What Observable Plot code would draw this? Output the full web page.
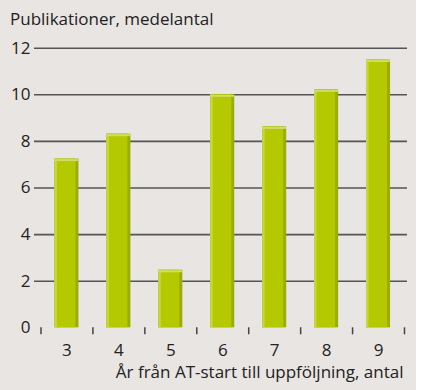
<!DOCTYPE html>
<html><head><meta charset="utf-8">
<script src="https://cdn.jsdelivr.net/npm/d3@7"></script>
<script src="https://cdn.jsdelivr.net/npm/@observablehq/plot@0.6"></script>
<style>
body{margin:0;background:#fff;}
#chart{width:416px;height:390px;background:#e8e5e2;font-family:"Open Sans",sans-serif;color:#222;}
#title{height:36px;box-sizing:border-box;padding:9px 0 0 10px;font-size:17px;line-height:20px;}
#chart svg{display:block;}
</style></head><body>
<div id="chart"><div id="title">Publikationer, medelantal</div></div>
<script>
const years = [3, 4, 5, 6, 7, 8, 9];
const values = [7.24, 8.31, 2.47, 10.0, 8.62, 10.21, 11.49];
const yTicks = [0, 2, 4, 6, 8, 10, 12];
const gridTicks = [2, 4, 6, 8, 10, 12];
const xTitle = "År från AT-start till uppföljning, antal";

const data = years.map((year, i) => ({year, value: values[i]}));
const boundaries = years.map(y => y - 0.5).concat([years[years.length - 1] + 0.5]);
const hw = 0.231;
const barX = {x1: d => d.year - hw, x2: d => d.year + hw, y1: () => 0, y2: "value"};

const chart = Plot.plot({
  width: 416, height: 354,
  marginTop: 11.7, marginBottom: 62.7, marginLeft: 34, marginRight: 9,
  style: {background: "transparent", fontFamily: "Open Sans, sans-serif", fontSize: "17px", color: "#222"},
  x: {type: "linear", domain: [2.5, 9.5], range: [40.5, 404]},
  y: {domain: [0, 12]},
  marks: [
    Plot.ruleY(gridTicks, {stroke: "#555", strokeWidth: 1.6}),
    Plot.rectY(data, {...barX, fill: "#9aad00"}),
    Plot.rectY(data, {...barX, fill: "#b5c900", insetRight: 3}),
    Plot.rectY(data, {...barX, fill: "#c4d641", insetRight: 21.5}),
    Plot.ruleY(data, {y: "value", x1: d => d.year - hw, x2: d => d.year + hw, stroke: "#cddd66", strokeWidth: 2, dy: 1}),
    Plot.axisY({ticks: yTicks, tickSize: 0, tickPadding: 4, label: null, fontSize: 17}),
    Plot.axisX({ticks: boundaries, tickSize: 7, tickFormat: () => "", stroke: "#444", strokeWidth: 1.5, label: null}),
    Plot.axisX({ticks: years, tickSize: 0, tickPadding: 16, fontSize: 17, tickFormat: d => String(d), label: null}),
    Plot.text([xTitle], {frameAnchor: "bottom-right", textAnchor: "end", lineAnchor: "bottom", dx: -4, dy: 50, fontSize: 17, fill: "#222"})
  ]
});
document.getElementById("chart").appendChild(chart);
</script>
</body></html>
